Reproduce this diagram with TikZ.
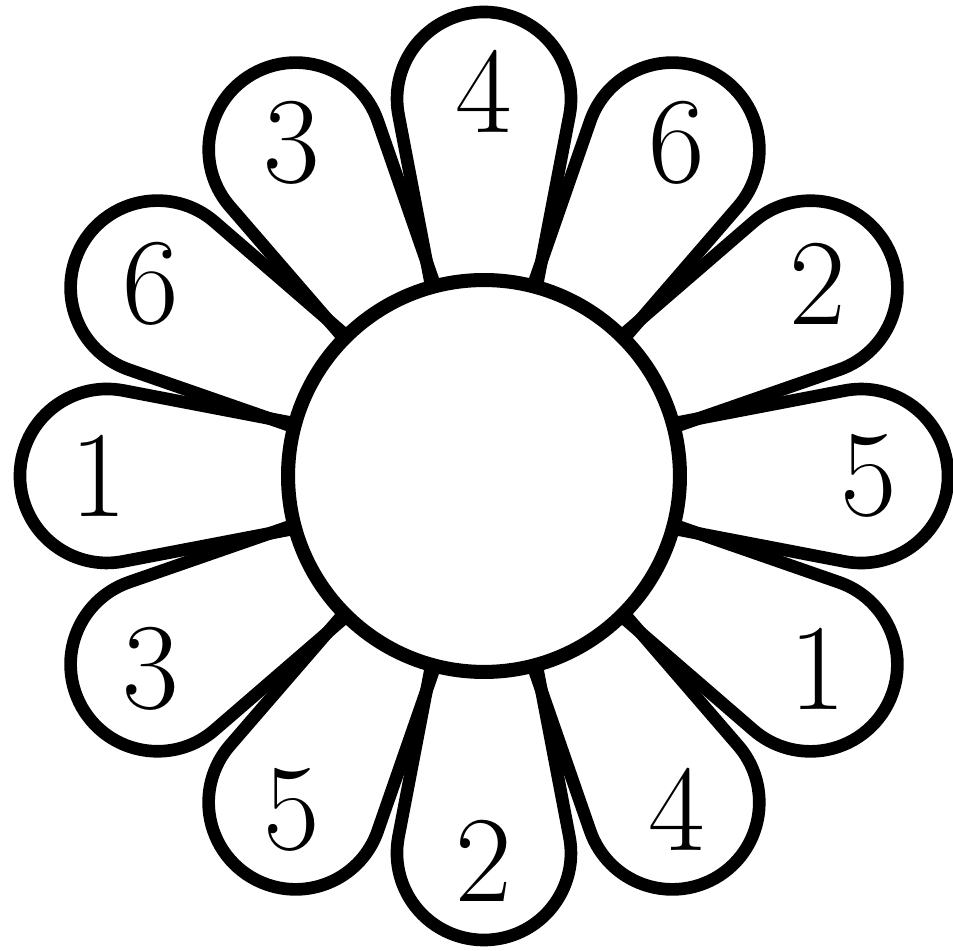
\documentclass[tikz,border=0pt]{standalone}
\usetikzlibrary{positioning}

\tikzset{
  petal/.style={line width=7.2pt, line join=round},
  hub/.style={circle, draw, fill=white, line width=8pt, minimum size=7.84cm, inner sep=0pt},
  petalnum/.style={font=\fontsize{70}{72}\selectfont}
}

\begin{document}
\begin{tikzpicture}[scale=0.02]
\useasboundingbox (-484,-475) rectangle (469,476);
%% Petals, one every 30 degrees
\foreach \a in {0,30,...,330}{
  \draw[petal, rotate=\a] (150,45.1) -- (360.7,85.4)
    arc[start angle=100.83, end angle=-100.83, radius=87] -- (150,-45.1);
}
%% Centre of the flower
\node[hub] (hub) at (0,0) {};
%% Numbers on the petals
\foreach \a/\lab in {90/4,60/6,30/2,0/5,-30/1,-60/4,-90/2,-120/5,-150/3,180/1,150/6,120/3}{
  \node[petalnum] (num\a) at (\a:385) {\lab};
}
\end{tikzpicture}
\end{document}
